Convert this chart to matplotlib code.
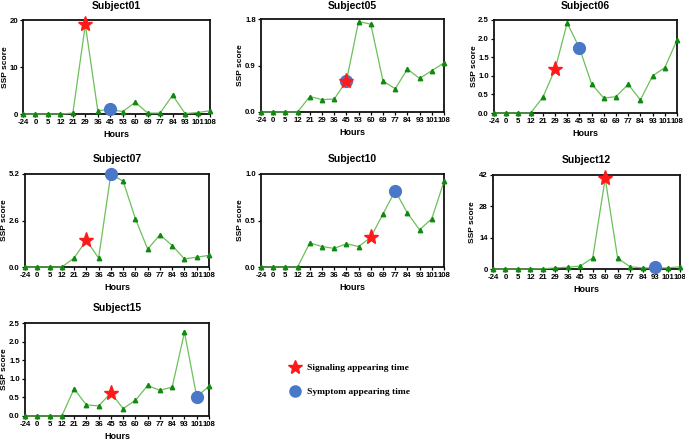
import matplotlib
matplotlib.use("Agg")
import matplotlib.pyplot as plt
from matplotlib.lines import Line2D
import numpy as np

hours = ["-24", "0", "5", "12", "21", "29", "36", "45", "53", "60", "69", "77", "84", "93", "101", "108"]

subjects = ["Subject01", "Subject05", "Subject06", "Subject07", "Subject10", "Subject12", "Subject15"]

s01 = [0, 0, 0, 0, 0.2, 19.0, 0.7, 1.0, 0.5, 2.5, 0.2, 0.2, 4.0, 0.1, 0.3, 0.7]
s05 = [0, 0, 0, 0, 0.30, 0.24, 0.25, 0.60, 1.75, 1.70, 0.60, 0.45, 0.83, 0.65, 0.80, 0.95]
s06 = [0, 0, 0, 0, 0.42, 1.17, 2.42, 1.75, 0.78, 0.40, 0.44, 0.77, 0.35, 1.00, 1.22, 1.96]
s07 = [0, 0, 0, 0, 0.50, 1.50, 0.50, 5.20, 4.80, 2.70, 1.00, 1.80, 1.20, 0.45, 0.55, 0.65]
s10 = [0, 0, 0, 0, 0.26, 0.22, 0.20, 0.25, 0.22, 0.32, 0.57, 0.82, 0.58, 0.40, 0.52, 0.92]
s12 = [0, 0, 0, 0, 0.1, 0.5, 0.8, 1.3, 5.0, 40.5, 4.8, 1.0, 0.5, 0.5, 0.5, 1.0]
s15 = [0, 0, 0, 0, 0.73, 0.30, 0.27, 0.62, 0.20, 0.42, 0.82, 0.69, 0.78, 2.25, 0.52, 0.80]
series = [s01, s05, s06, s07, s10, s12, s15]

# signaling (star) and symptom (circle) appearing hour labels and values
signal_hour = ["29", "45", "29", "29", "60", "60", "45"]
signal_val = [19.2, 0.60, 1.17, 1.50, 0.32, 40.8, 0.62]
symptom_hour = ["45", "45", "45", "45", "77", "93", "101"]
symptom_val = [1.0, 0.60, 1.75, 5.20, 0.82, 1.0, 0.52]

yticks = [[0, 10, 20], [0.0, 0.9, 1.8], [0.0, 0.5, 1.0, 1.5, 2.0, 2.5], [0.0, 2.6, 5.2],
          [0.0, 0.5, 1.0], [0, 14, 28, 42], [0.0, 0.5, 1.0, 1.5, 2.0, 2.5]]
ytick_fmt = ["{:.0f}", "{:.1f}", "{:.1f}", "{:.1f}", "{:.1f}", "{:.0f}", "{:.1f}"]

# pixel boxes (left, right, top, bottom), title centre y
boxes = [(23, 210, 20, 114), (261, 444, 19, 112), (494, 677, 20, 113),
         (25, 209, 174, 267), (261, 444, 174, 267), (493, 680, 175, 269),
         (25, 209, 323, 416)]
title_y = [6, 6, 6, 159, 159, 160, 308]

W, H = 685, 441
fig = plt.figure(figsize=(W / 100, H / 100), dpi=100)
plt.rcParams['font.family'] = ['Liberation Sans', 'DejaVu Sans']

line_col = '#6cc05a'
mk_col = '#0f8a0f'
star_col = '#ff1a1a'
circ_col = '#4a78c8'

for i, name in enumerate(subjects):
    l, r, t, b = boxes[i]
    ax = fig.add_axes([l / W, 1 - b / H, (r - l) / W, (b - t) / H])
    x = np.arange(len(hours))
    ax.plot(x, series[i], color=line_col, lw=0.9, marker='^', ms=3.2,
            mfc=mk_col, mec=mk_col, clip_on=False, zorder=3)
    sx = hours.index(signal_hour[i])
    cx = hours.index(symptom_hour[i])
    ax.plot([cx], [symptom_val[i]], 'o', color=circ_col, ms=8.5, clip_on=False, zorder=4)
    ax.plot([sx], [signal_val[i]], '*', color=star_col, ms=11, clip_on=False, zorder=5)
    ax.set_xlim(0, len(hours) - 1)
    ax.set_ylim(yticks[i][0], yticks[i][-1])
    ax.set_xticks(x)
    ax.set_xticklabels(hours, fontsize=5.6, fontweight='bold')
    ax.set_yticks(yticks[i])
    ax.set_yticklabels([ytick_fmt[i].format(v) for v in yticks[i]], fontsize=5.6, fontweight='bold')
    ax.tick_params(axis='both', length=2.5, width=0.9, pad=1.2, direction='out')
    for sp in ax.spines.values():
        sp.set_linewidth(1.3)
        sp.set_color('#111111')
    fig.text((l + r) / 2 / W, 1 - title_y[i] / H, name, fontsize=7.5, fontweight='bold',
             ha='center', va='center')
    ax.set_xlabel("Hours", fontsize=6.5, fontweight='bold')
    ax.xaxis.set_label_coords(0.5, -16 / (b - t))
    ax.set_ylabel("SSP score", fontsize=6.0, fontweight='bold')
    lx = max(l - 16.5, 8.5)
    ax.yaxis.set_label_coords((lx - l) / (r - l), 0.5)

handles = [Line2D([], [], ls='none', marker='*', color=star_col, ms=10),
           Line2D([], [], ls='none', marker='o', color=circ_col, ms=8)]
fig.legend(handles, ["Signaling appearing time", "Symptom appearing time"],
           loc='upper left', bbox_to_anchor=(285 / W, 1 - 359 / H), frameon=False,
           prop={'family': 'Liberation Serif', 'weight': 'bold', 'size': 6.8},
           labelspacing=1.6, handletextpad=0.6, handlelength=1.2, borderpad=0)

fig.savefig("out.png", dpi=100)
